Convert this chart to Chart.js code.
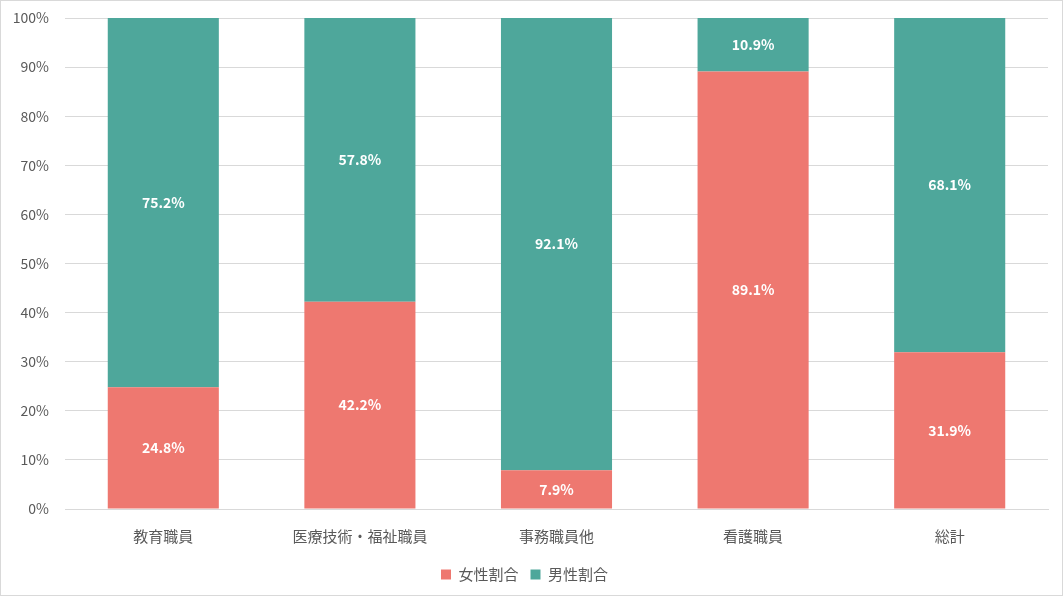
<!DOCTYPE html>
<html>
<head>
<meta charset="utf-8">
<script src="https://cdn.jsdelivr.net/npm/chart.js@4"></script>
<style>
  html, body { margin: 0; padding: 0; background: #fff; }
  #wrap { width: 1061px; height: 594px; border: 1px solid #d9d9d9; position: relative; }
</style>
</head>
<body>
<div id="wrap"><canvas id="c"></canvas></div>
<script>
// categories and series
const categories = ['教育職員', '医療技術・福祉職員', '事務職員他', '看護職員', '総計'];
const femaleShare = [24.8, 42.2, 7.9, 89.1, 31.9];
const maleShare = [75.2, 57.8, 92.1, 10.9, 68.1];
const seriesNames = ['女性割合', '男性割合'];

const FONT = '"Noto Sans CJK JP", "Noto Sans", sans-serif';

// draw the percentage in the middle of each bar segment
const barLabels = {
    id: 'barLabels',
    afterDatasetsDraw(chart) {
        const ctx = chart.ctx;
        ctx.save();
        ctx.fillStyle = '#ffffff';
        ctx.font = 'bold 14px ' + FONT;
        ctx.textAlign = 'center';
        ctx.textBaseline = 'middle';
        chart.data.datasets.forEach((ds, i) => {
            chart.getDatasetMeta(i).data.forEach((bar, j) => {
                const mid = (bar.y + bar.base) / 2;
                ctx.fillText(ds.data[j].toFixed(1) + '%', bar.x, mid);
            });
        });
        ctx.restore();
    }
};

new Chart(document.getElementById('c'), {
    type: 'bar',
    data: {
        labels: categories,
        datasets: [{
            label: seriesNames[0],
            data: femaleShare,
            backgroundColor: '#ee7870'
        }, {
            label: seriesNames[1],
            data: maleShare,
            backgroundColor: '#4ea79b'
        }]
    },
    options: {
        responsive: true,
        maintainAspectRatio: false,
        animation: false,
        layout: { padding: { top: 17, right: 14, left: 0, bottom: 3 } },
        datasets: { bar: { categoryPercentage: 1, barPercentage: 0.565 } },
        scales: {
            x: {
                stacked: true,
                grid: { display: false },
                border: { color: '#d9d9d9' },
                ticks: { color: '#595959', font: { family: FONT, size: 15 }, padding: 10 }
            },
            y: {
                stacked: true,
                min: 0,
                max: 100,
                afterFit: scale => {
                    scale.width = 64;
                    scale.paddingTop = 0;
                    scale.paddingBottom = 0;
                },
                ticks: {
                    stepSize: 10,
                    color: '#595959',
                    font: { family: FONT, size: 14 },
                    padding: 16,
                    callback: v => v + '%'
                },
                grid: { color: '#d9d9d9', drawTicks: false },
                border: { display: false }
            }
        },
        plugins: {
            legend: {
                position: 'bottom',
                labels: {
                    color: '#595959',
                    font: { family: FONT, size: 15 },
                    boxWidth: 10,
                    boxHeight: 10,
                    padding: 12
                }
            },
            tooltip: { enabled: false }
        }
    },
    plugins: [barLabels]
});
</script>
</body>
</html>
